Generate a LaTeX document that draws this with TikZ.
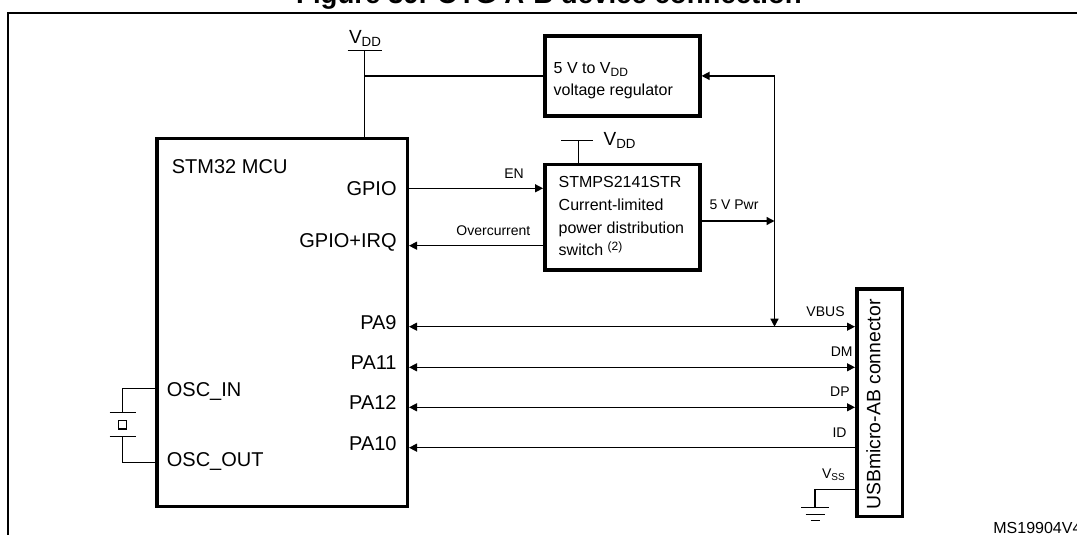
\documentclass[tikz,border=0pt]{standalone}
\usepackage{fontspec}
\setmainfont{Liberation Sans}
\usetikzlibrary{arrows.meta}

\begin{document}
\begin{tikzpicture}[x=0.5pt, y=-0.5pt, >={Triangle[length=4pt,width=4pt]},
		wire/.style={line width=0.65pt},
		box/.style={draw, line width=1.75pt, inner sep=0pt},
		pin/.style={inner sep=0pt, font=\fontsize{10}{12}\selectfont},
		txt/.style={inner sep=0pt, font=\fontsize{8}{10}\selectfont},
		tag/.style={inner sep=0pt, font=\fontsize{7}{8}\selectfont}]
		\useasboundingbox (0,0) rectangle (1077,535);
		\clip (0,0) rectangle (1077,535);
		% title and frame
		\node (title) at (549,4) [anchor=base, inner sep=0pt, font=\bfseries\fontsize{13.8}{16}\selectfont] {Figure 39. OTG A-B device connection};
		\draw[line width=1pt] (7.6,560) -- (7.6,12.7) -- (1100,12.7);
		% blocks
		\node (mcu) at (282,322.5) [box, minimum width=125.25pt, minimum height=183.75pt] {};
		\node (reg) at (622.3,75.9) [box, minimum width=77.5pt, minimum height=40.1pt] {};
		\node (sw) at (622.3,217.2) [box, minimum width=77.5pt, minimum height=52.75pt] {};
		\node (usb) at (879.5,402.8) [box, minimum width=22.75pt, minimum height=113.75pt] {};
		% texts in the blocks
		\node (mcutxt) at (171.5,173.3) [pin, anchor=base west] {STM32 MCU};
		\node (gpio) at (397,196) [pin, anchor=base east] {GPIO};
		\node (irq) at (397,247.6) [pin, anchor=base east] {GPIO+IRQ};
		\foreach \p/\y in {PA9/329.3, PA11/369.3, PA12/409.3, PA10/450.3}
			\node (l\p) at (397,\y) [pin, anchor=base east] {\p};
		\node (oscin) at (166.5,396) [pin, anchor=base west] {OSC\_IN};
		\node (oscout) at (166.5,466) [pin, anchor=base west] {OSC\_OUT};
		\node (regtxt1) at (553.3,73.3) [txt, anchor=base west] {5 V to V\textsubscript{DD}};
		\node (regtxt2) at (553.3,95.5) [txt, anchor=base west] {voltage regulator};
		\foreach \t [count=\i] in {STMPS2141STR, Current-limited, power distribution, switch \textsuperscript{(2)}}
			\node (swtxt\i) at (558.3,{165.2+22.7*\i}) [txt, anchor=base west] {\t};
		\node (usbtxt) at (873.5,404.5) [pin, rotate=90, font=\fontsize{9.7}{12}\selectfont] {USBmicro-AB connector};
		% supplies
		\coordinate (vdd) at (364.5,50.7);
		\node (vddlbl) at (365.5,43.5) [anchor=base, inner sep=0pt, font=\fontsize{9.5}{11}\selectfont] {V\textsubscript{DD}};
		\draw[wire] (vdd) +(-17,0) -- +(17,0);
		\draw[wire] (vdd) -- (vdd |- mcu.north);
		\draw[wire] (vdd |- reg.west) -- (reg.west);
		\coordinate (vddsw) at (578.3,140.7);
		\node (vddswlbl) at (603.3,145.3) [anchor=base west, inner sep=0pt, font=\fontsize{9.5}{11}\selectfont] {V\textsubscript{DD}};
		\draw[wire] (vddsw) +(-17,0) -- +(15,0);
		\draw[wire] (vddsw) -- (vddsw |- sw.north);
		% switch and regulator wires
		\path (sw.west) ++(0,-28.9) coordinate (en);
		\path (sw.west) ++(0,28.5) coordinate (oc);
		\path (sw.east) ++(0,3.8) coordinate (pwr);
		\coordinate (jct) at (774.5,326.7);
		\draw[wire, ->] (en -| mcu.east) -- (en);
		\draw[wire, ->] (oc) -- (oc -| mcu.east);
		\draw[wire, ->] (pwr) -- (pwr -| jct);
		\draw[wire, <->] (reg.east) -| (jct);
		\node (entag) at (514,178.3) [tag, anchor=base] {EN};
		\node (octag) at (493.4,235) [tag, anchor=base] {Overcurrent};
		\node (pwrtag) at (734,210) [tag, anchor=base] {5 V Pwr};
		% USB lines
		\foreach \s/\dy in {vbus/-76.1, dm/-35.5, dp/4.5, id/44.9, vss/86.5}
			\path (usb.west) ++(0,\dy) coordinate (\s);
		\foreach \s in {vbus, dm, dp}
			\draw[wire, <->] (\s -| mcu.east) -- (\s);
		\draw[wire, ->] (id) -- (id -| mcu.east);
		\node (vbustag) at (845,316.5) [tag, anchor=base east] {VBUS};
		\node (dmtag) at (853,356.7) [tag, anchor=base east] {DM};
		\node (dptag) at (850,396.7) [tag, anchor=base east] {DP};
		\node (idtag) at (847,437.3) [tag, anchor=base east] {ID};
		\node (vsstag) at (821.7,478.3) [tag, anchor=base west] {V\textsubscript{SS}};
		% ground
		\coordinate (gnd) at (815,507.7);
		\draw[wire] (vss) -| (gnd);
		\foreach \dy/\w in {0/14, 6.6/9.5, 13/4.5}
			\draw[wire] (gnd) ++(-\w,\dy) -- ++(2*\w,0);
		% crystal
		\coordinate (xtop) at (122.7,388.3);
		\coordinate (xbot) at (122.7,462.3);
		\coordinate (xtal) at (122.7,424.7);
		\draw[wire] (xtop -| mcu.west) -- (xtop) -- ++(0,24.4);
		\draw[wire] (xbot -| mcu.west) -- (xbot) -- ++(0,-25.6);
		\draw[wire] (xtal) ++(-13,-12) -- ++(26,0);
		\draw[wire] (xtal) ++(-13,12) -- ++(26,0);
		\draw[wire] (xtal) ++(-4,-4.2) rectangle ++(8,8.4);
		\node (docid) at (993,533.3) [anchor=base west, inner sep=0pt, font=\fontsize{8}{10}\selectfont] {MS19904V4};
	\end{tikzpicture}
\end{document}
